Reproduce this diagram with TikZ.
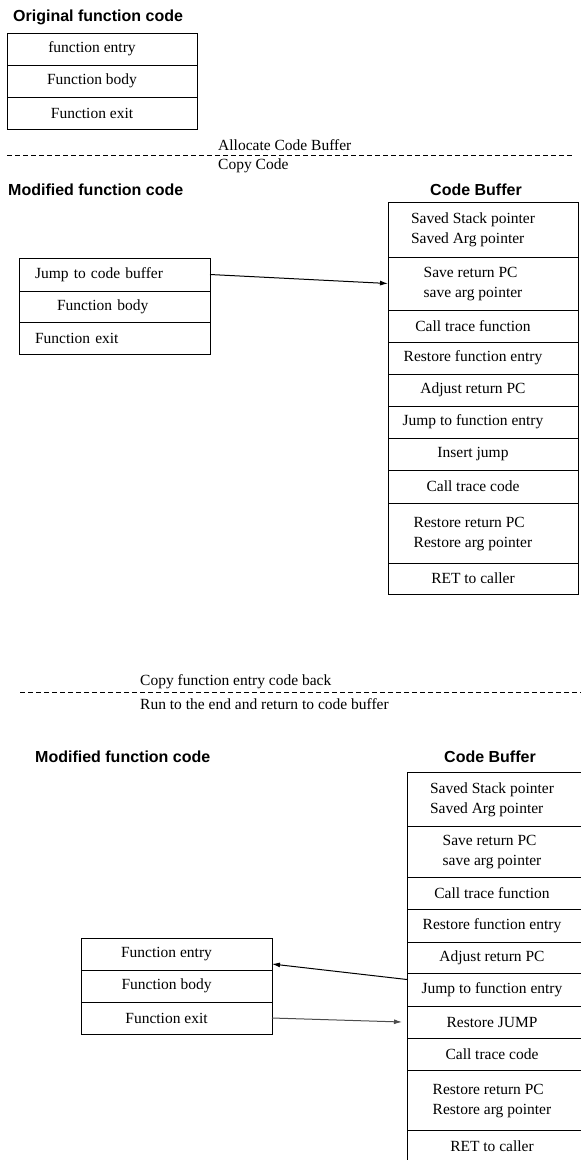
\documentclass[tikz,border=0pt]{standalone}
\usepackage{fontspec}
\setmainfont{Liberation Serif}
\newfontfamily\headfont{Liberation Sans}
\usetikzlibrary{positioning,arrows.meta}
\newcommand{\twoline}[2]{\begin{tabular}{@{}l@{}}#1\\#2\end{tabular}}

\begin{document}
\begin{tikzpicture}
[x=1pt,y=-1pt,
cell/.style={draw=black,line width=1pt,outer sep=0pt,inner sep=0pt,
  minimum width=190pt,minimum height=32pt,font=\fontsize{15.5}{20}\selectfont,
  execute at end node={\hspace*{20pt}}},
tall/.style={cell,minimum height=54pt},
lcell/.style={cell,text width=159pt,align=left,inner xsep=16pt,execute at end node={}},
head/.style={font=\headfont\bfseries\fontsize{16}{19}\selectfont,inner sep=0pt},
note/.style={font=\fontsize{15.5}{20}\selectfont,inner sep=0pt,anchor=west},
edge/.style={black,>={Latex[length=8pt,width=5pt]},line width=1pt},
sep/.style={line width=1pt,dash pattern=on 5pt off 3pt}]
\useasboundingbox (0,0) rectangle (581,1160);
%%
\node (orig) [head,anchor=west] at (13,17) {Original function code};
\node (oentry) [cell] at (102,49) {function entry};
\node (obody) [cell,below=0pt of oentry] {Function body};
\node (oexit) [cell,below=0pt of obody] {Function exit};
%%
\coordinate (s1a) at (7,155);
\coordinate (s1b) at (574,155);
\draw [sep] (s1a) -- (s1b);
\node (alloc) [note] at (218,145) {Allocate Code Buffer};
\node (copy) [note] at (218,166) {Copy Code};
%%
\node (mod) [head,anchor=west] at (8,190) {Modified function code};
\node (mjump) [lcell,minimum height=33pt] at (114.5,274.5) {Jump to code buffer};
\node (mbody) [lcell,below=0pt of mjump,minimum height=31pt] {\hspace*{22pt}Function body};
\node (mexit) [lcell,below=0pt of mbody] {Function exit};
%%
\node (b1) [tall,minimum height=55pt] at (483,229.5) {\twoline{Saved Stack pointer}{Saved Arg pointer}};
\node (buf) [head,above=6pt of b1,xshift=-7pt] {Code Buffer};
\node (b2) [tall,below=0pt of b1,minimum height=53pt] {\twoline{Save return PC}{save arg pointer}};
\node (b3) [cell,below=0pt of b2] {Call trace function};
\node (b4) [cell,below=0pt of b3] {Restore function entry};
\node (b5) [cell,below=0pt of b4] {Adjust return PC};
\node (b6) [cell,below=0pt of b5] {Jump to function entry};
\node (b7) [cell,below=0pt of b6] {Insert jump};
\node (b8) [cell,below=0pt of b7,minimum height=33pt] {Call trace code};
\node (b9) [tall,below=0pt of b8,minimum height=60pt] {\twoline{Restore return PC}{Restore arg pointer}};
\node (b10) [cell,below=0pt of b9,minimum height=31pt] {RET to caller};
\draw [edge,->] (mjump.east) -- (b2.west);
%%
\coordinate (s2a) at (20,692);
\coordinate (s2b) at (582,692);
\draw [sep] (s2a) -- (s2b);
\node (copyback) [note] at (140,682) {Copy function entry code back};
\node (run) [note] at (140,704) {Run to the end and return to code buffer};
%%
\node (mod2) [head,anchor=west] at (35,757) {Modified function code};
\node (fentry) [cell,minimum width=191pt] at (176.5,954) {Function entry};
\node (fbody) [cell,minimum width=191pt,below=0pt of fentry] {Function body};
\node (fexit) [cell,minimum width=191pt,below=0pt of fbody] {Function exit};
%%
\node (c1) [tall] at (502,799) {\twoline{Saved Stack pointer}{Saved Arg pointer}};
\node (buf2) [head,above=9pt of c1,xshift=-12pt] {Code Buffer};
\node (c2) [tall,below=0pt of c1,minimum height=51pt] {\twoline{Save return PC}{save arg pointer}};
\node (c3) [cell,below=0pt of c2] {Call trace function};
\node (c4) [cell,below=0pt of c3,minimum height=33pt] {Restore function entry};
\node (c5) [cell,below=0pt of c4,minimum height=31pt] {Adjust return PC};
\node (c6) [cell,below=0pt of c5,minimum height=33pt] {Jump to function entry};
\node (c7) [cell,below=0pt of c6] {Restore JUMP};
\node (c8) [cell,below=0pt of c7] {Call trace code};
\node (c9) [tall,below=0pt of c8,minimum height=60pt] {\twoline{Restore return PC}{Restore arg pointer}};
\node (c10) [cell,below=0pt of c9] {RET to caller};
\draw [edge,->] ([yshift=10pt]c6.west) -- ([yshift=-10pt]fentry.east);
\draw [edge,->,black!70] (fexit.east) -- ([xshift=-5pt]c7.west);
\end{tikzpicture}
\end{document}
